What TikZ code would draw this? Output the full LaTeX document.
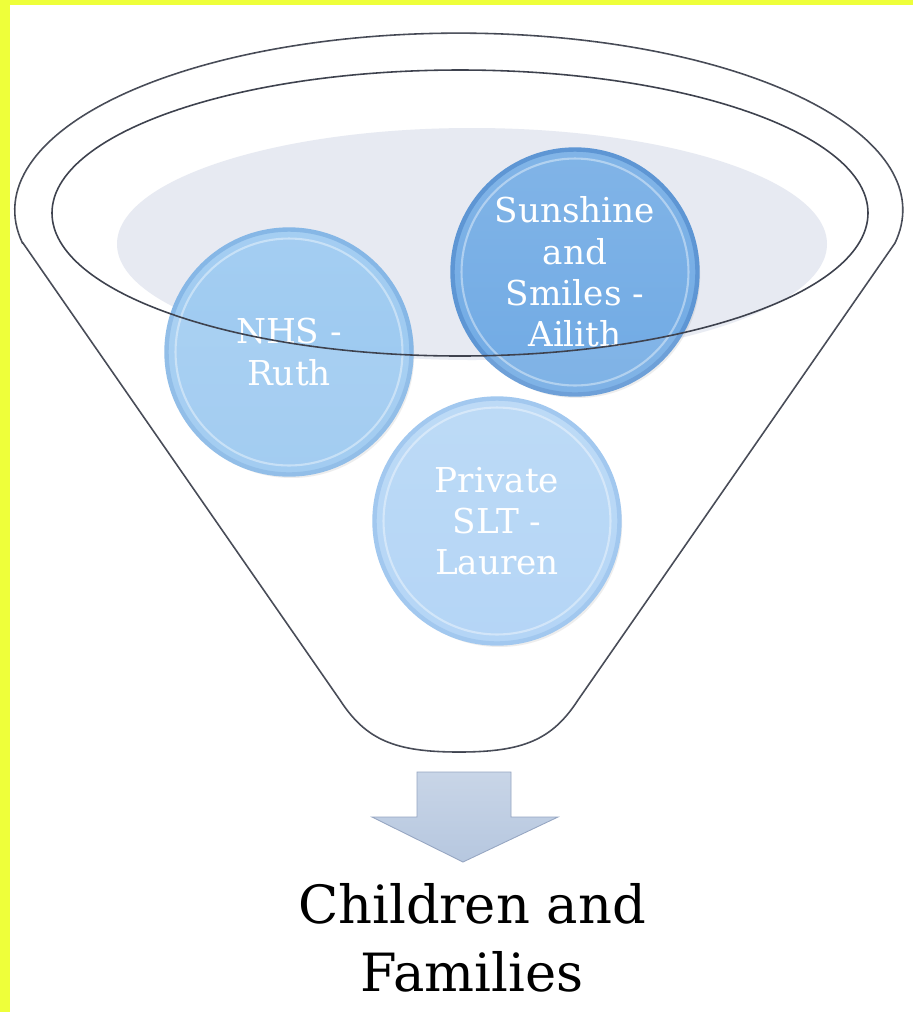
\documentclass[tikz,border=0pt]{standalone}
\usepackage{fontspec}
\setmainfont{DejaVu Serif}
\usepackage{tikz}
\usetikzlibrary{shadows}

\definecolor{rimyellow}{RGB}{238,255,58}
\definecolor{funnelline}{RGB}{62,66,78}
\definecolor{poolgray}{RGB}{231,234,242}
\definecolor{nhsblue}{RGB}{152,199,240}
\definecolor{nhsedge}{RGB}{134,183,230}
\definecolor{sunblue}{RGB}{112,170,228}
\definecolor{sunedge}{RGB}{94,150,212}
\definecolor{slotblue}{RGB}{172,209,245}
\definecolor{slotedge}{RGB}{152,194,238}
\definecolor{arrowfill}{RGB}{182,199,223}
\definecolor{arrowedge}{RGB}{150,166,194}

\tikzset{
  bubble/.style={circle, minimum size=4.9cm, inner sep=0pt, align=center,
    text=white, font=\fontsize{19.5}{23.5}\selectfont, line width=2.5pt,
    drop shadow={shadow xshift=1.5pt, shadow yshift=-2pt, opacity=0.15}},
  funnel/.style={draw=funnelline, line width=0.9pt}
}

\begin{document}
\begin{tikzpicture}[x=0.02cm, y=-0.02cm]
    % Frame
    \useasboundingbox (0,0) rectangle (913,1012);
    \fill[rimyellow] (0,0) rectangle (913,1012);
    \fill[white] (10,5) rectangle (913,1012);

    % Funnel body
    \path[funnel, fill=white] (23,243) -- (340,700)
        .. controls (366,740) and (395,752) .. (459,752)
        .. controls (523,752) and (552,740) .. (578,700) -- (895,243)
        arc[start angle=10.7, end angle=-190.7, x radius=444, y radius=177] -- cycle;

    % Pool inside the rim
    \fill[poolgray] (472,244) ellipse [x radius=355, y radius=116];

    % Three services
    \node[bubble, draw=nhsedge, top color=nhsblue!88!white, bottom color=nhsblue] (nhs) at (289,352) {NHS -\\Ruth};
    \node[bubble, draw=sunedge, top color=sunblue!88!white, bottom color=sunblue] (sun) at (575,272) {Sunshine\\and\\Smiles -\\Ailith};
    \node[bubble, draw=slotedge, top color=slotblue!88!white, bottom color=slotblue] (slt) at (497,521) {Private\\SLT -\\Lauren};

    % Bevel rings
    \foreach \b in {nhs, sun, slt}
        \draw[white, opacity=0.4, line width=1.2pt] (\b.center) circle [radius=2.27cm];

    % Haze of the funnel wall below the rim
    \fill[white, opacity=0.1, even odd rule] (23,243) -- (340,700)
        .. controls (366,740) and (395,752) .. (459,752)
        .. controls (523,752) and (552,740) .. (578,700) -- (895,243)
        arc[start angle=10.7, end angle=-190.7, x radius=444, y radius=177] -- cycle
        (460,213) ellipse [x radius=408, y radius=143];

    % Inner rim over the bubbles
    \path[funnel] (460,213) ellipse [x radius=408, y radius=143];

    % Arrow down
    \path[draw=arrowedge, line width=0.5pt, top color=arrowfill!75!white, bottom color=arrowfill]
        (417,772) -- (511,772) -- (511,817) -- (558,817) -- (463,862)
        -- (372,817) -- (417,817) -- cycle;

    % Result
    \node[align=center, inner sep=0pt, font=\fontsize{30}{39}\selectfont] (out) at (472,938) {Children and\\Families};
\end{tikzpicture}
\end{document}
